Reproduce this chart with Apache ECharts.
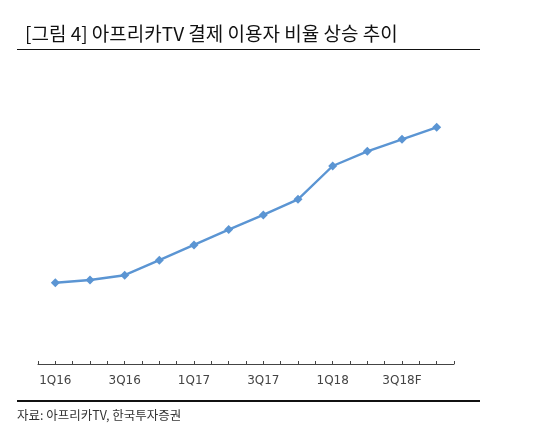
<!DOCTYPE html>
<html>
<head>
<meta charset="utf-8">
<script src="https://cdn.jsdelivr.net/npm/echarts@6/dist/echarts.min.js"></script>
<style>
  html, body { margin: 0; padding: 0; background: #fff; }
  #chart { width: 540px; height: 437px; }
</style>
</head>
<body>
<div id="chart"></div>
<script>
// 분기 (카테고리)
var quarters = ['1Q16', '2Q16', '3Q16', '4Q16', '1Q17', '2Q17', '3Q17', '4Q17', '1Q18', '2Q18', '3Q18F', '4Q18F']
// 결제 이용자 비율 (그림에서 추정한 상대값)
var payRatio = [27.1, 28.0, 29.6, 34.6, 39.7, 44.8, 49.7, 54.9, 66.0, 70.9, 74.9, 78.9]
// 눈금 라벨을 붙일 분기
var tickLabels = ['1Q16', '3Q16', '1Q17', '3Q17', '1Q18', '3Q18F']

var font = '"Noto Sans CJK KR", "Noto Sans", sans-serif'
var latin = '"DejaVu Sans", "Liberation Sans", sans-serif'

var points = payRatio.map(function (v, i) {
    return [i + 0.5, v]
})

var myChart = echarts.init(document.getElementById('chart'))
var option = {
    animation: false,
    title: {
        text: '[그림 4] 아프리카TV 결제 이용자 비율 상승 추이',
        left: 20,
        top: 19,
        textStyle: {
            fontFamily: font,
            fontSize: 19,
            fontWeight: 'normal',
            color: '#111'
        }
    },
    graphic: [
        {
            type: 'line',
            shape: { x1: 17, y1: 49.5, x2: 480, y2: 49.5 },
            style: { stroke: '#111', lineWidth: 1.2 }
        },
        {
            type: 'line',
            shape: { x1: 17, y1: 401, x2: 480, y2: 401 },
            style: { stroke: '#111', lineWidth: 2.2 }
        },
        {
            type: 'text',
            left: 17,
            top: 409,
            style: {
                text: '자료: 아프리카TV, 한국투자증권',
                font: '12.5px ' + font,
                fill: '#333'
            }
        }
    ],
    grid: {
        left: 38,
        right: 86,
        top: 64,
        bottom: 73
    },
    xAxis: {
        type: 'value',
        min: 0,
        max: 12,
        interval: 0.5,
        splitLine: { show: false },
        axisLine: { show: true, lineStyle: { color: '#444', width: 1 } },
        axisTick: { show: true, inside: true, length: 3, lineStyle: { color: '#444' } },
        axisLabel: {
            showMinLabel: true,
            showMaxLabel: true,
            margin: 11,
            fontFamily: latin,
            fontSize: 12,
            color: '#444',
            formatter: function (v) {
                var idx = v - 0.5
                if (idx >= 0 && Math.abs(idx - Math.round(idx)) < 1e-6) {
                    var q = quarters[Math.round(idx)]
                    if (tickLabels.indexOf(q) >= 0) return q
                }
                return ''
            }
        }
    },
    yAxis: {
        type: 'value',
        min: 0,
        max: 100,
        show: false
    },
    series: [{
        type: 'line',
        data: points,
        symbol: 'diamond',
        symbolSize: 9,
        lineStyle: { color: '#5b95d3', width: 2.4 },
        itemStyle: { color: '#5b95d3' }
    }]
}
myChart.setOption(option)
</script>
</body>
</html>
